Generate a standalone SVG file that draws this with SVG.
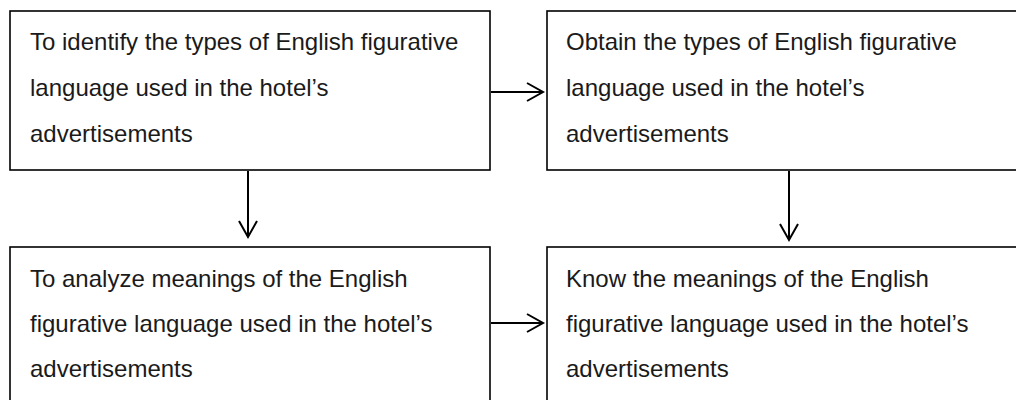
<svg xmlns="http://www.w3.org/2000/svg" width="1016" height="400" viewBox="0 0 1016 400">
  <style>
    .box { fill: #ffffff; stroke: #000000; stroke-width: 1.6; }
    .txt { font-family: "Liberation Sans", Arial, sans-serif; font-size: 24px; fill: #1a1a1a; }
    .conn { stroke: #000000; stroke-width: 2; fill: none; }
  </style>
  <defs>
    <marker id="arrow" markerUnits="userSpaceOnUse" markerWidth="20" markerHeight="22" refX="17" refY="10" orient="auto">
      <path d="M1,1 L17,10 L1,19" fill="none" stroke="#000" stroke-width="2"/>
    </marker>
  </defs>
  <rect width="1016" height="400" fill="#ffffff"/>
  <g id="node-identify">
    <rect class="box" x="10" y="11" width="480" height="159"/>
    <text class="txt" x="30" y="50">To identify the types of English figurative</text>
    <text class="txt" x="30" y="96">language used in the hotel’s</text>
    <text class="txt" x="30" y="142">advertisements</text>
  </g>
  <g id="node-obtain">
    <rect class="box" x="547" y="11" width="490" height="159"/>
    <text class="txt" x="566" y="50">Obtain the types of English figurative</text>
    <text class="txt" x="566" y="96">language used in the hotel’s</text>
    <text class="txt" x="566" y="142">advertisements</text>
  </g>
  <g id="node-analyze">
    <rect class="box" x="10" y="247" width="480" height="170"/>
    <text class="txt" x="30" y="287">To analyze meanings of the English</text>
    <text class="txt" x="30" y="332">figurative language used in the hotel’s</text>
    <text class="txt" x="30" y="377">advertisements</text>
  </g>
  <g id="node-know">
    <rect class="box" x="547" y="247" width="490" height="170"/>
    <text class="txt" x="566" y="287">Know the meanings of the English</text>
    <text class="txt" x="566" y="332">figurative language used in the hotel’s</text>
    <text class="txt" x="566" y="377">advertisements</text>
  </g>
  <g id="connectors">
    <line class="conn" x1="491" y1="92" x2="543" y2="92" marker-end="url(#arrow)"/>
    <line class="conn" x1="248" y1="171" x2="248" y2="237" marker-end="url(#arrow)"/>
    <line class="conn" x1="789" y1="171" x2="789" y2="240" marker-end="url(#arrow)"/>
    <line class="conn" x1="491" y1="323" x2="543" y2="323" marker-end="url(#arrow)"/>
  </g>
</svg>
